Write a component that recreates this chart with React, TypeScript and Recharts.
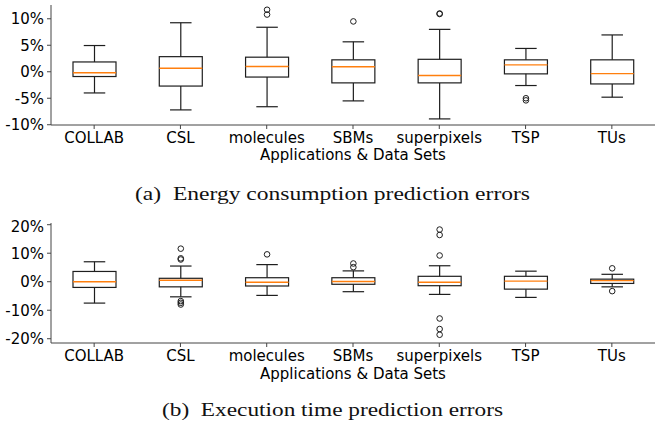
import React from 'react';
import { ComposedChart, Bar, XAxis, YAxis, Label } from 'recharts';

const categories = ['COLLAB', 'CSL', 'molecules', 'SBMs', 'superpixels', 'TSP', 'TUs'];

// (a) Energy consumption prediction errors (%)
const energyWhiskerLow = [-4.0, -7.2, -6.6, -5.5, -8.9, -2.6, -4.8];
const energyQ1 = [-0.9, -2.7, -1.0, -2.1, -2.1, -0.4, -2.3];
const energyMedian = [-0.2, 0.65, 1.0, 0.95, -0.7, 1.3, -0.35];
const energyQ3 = [1.85, 2.85, 2.75, 2.25, 2.35, 2.25, 2.25];
const energyWhiskerHigh = [4.95, 9.25, 8.4, 5.65, 8.0, 4.4, 6.95];
const energyOutliers: number[][] = [[], [], [10.8, 11.7], [9.5], [10.9, 11.0], [-5.0, -5.4], []];
const energyTicks = [-10, -5, 0, 5, 10];
const energyDomain: [number, number] = [-10.05, 12.6];

// (b) Execution time prediction errors (%)
const timeWhiskerLow = [-7.5, -5.3, -4.8, -3.5, -4.45, -5.5, -1.8];
const timeQ1 = [-2.0, -1.8, -1.5, -0.9, -1.4, -2.6, -0.6];
const timeMedian = [0.0, 0.5, -0.2, 0.1, -0.2, 0.2, 0.4];
const timeQ3 = [3.6, 1.2, 1.4, 1.4, 1.9, 1.9, 0.9];
const timeWhiskerHigh = [7.0, 5.5, 6.0, 3.8, 5.6, 3.7, 2.6];
const timeOutliers: number[][] = [
  [],
  [11.6, 8.2, 7.8, -6.8, -7.4, -8.0],
  [9.6],
  [6.4, 5.1],
  [18.3, 16.4, 9.2, -12.9, -16.6, -18.6],
  [],
  [4.7, -3.3],
];
const timeTicks = [-20, -10, 0, 10, 20];
const timeDomain: [number, number] = [-21.5, 20.6];

const xTitle = 'Applications & Data Sets';
const captionA = '(a)  Energy consumption prediction errors';
const captionB = '(b)  Execution time prediction errors';

function buildRows(
  low: number[], q1: number[], med: number[], q3: number[], high: number[], outliers: number[][]
) {
  return categories.map((name, i) => {
    const all = [low[i], high[i], ...outliers[i]];
    return {
      name,
      wl: low[i],
      q1: q1[i],
      med: med[i],
      q3: q3[i],
      wh: high[i],
      out: outliers[i],
      lo: Math.min(...all),
      hi: Math.max(...all),
    };
  });
}

const energyRows = buildRows(energyWhiskerLow, energyQ1, energyMedian, energyQ3, energyWhiskerHigh, energyOutliers);
const timeRows = buildRows(timeWhiskerLow, timeQ1, timeMedian, timeQ3, timeWhiskerHigh, timeOutliers);

const LINE = '#1e1e1e';
const FRAME = '#444';
const MEDIAN = '#ff7f0e';

const BoxShape = (props: any) => {
  const { x, y, width, height } = props;
  const p = props.payload ?? props;
  const span = p.hi - p.lo;
  const py = (v: number) => y + ((p.hi - v) / span) * height;
  const cx = x + width / 2;
  const cap = width / 4;
  const yq1 = py(p.q1);
  const yq3 = py(p.q3);
  return (
    <g>
      <line x1={cx} x2={cx} y1={py(p.wh)} y2={yq3} stroke={LINE} strokeWidth={1.2} />
      <line x1={cx} x2={cx} y1={yq1} y2={py(p.wl)} stroke={LINE} strokeWidth={1.2} />
      <line x1={cx - cap} x2={cx + cap} y1={py(p.wh)} y2={py(p.wh)} stroke={LINE} strokeWidth={1.2} />
      <line x1={cx - cap} x2={cx + cap} y1={py(p.wl)} y2={py(p.wl)} stroke={LINE} strokeWidth={1.2} />
      <rect x={x} y={yq3} width={width} height={yq1 - yq3} fill="none" stroke={LINE} strokeWidth={1.2} />
      <line x1={x} x2={x + width} y1={py(p.med)} y2={py(p.med)} stroke={MEDIAN} strokeWidth={1.4} />
      {p.out.map((v: number, k: number) => (
        <circle key={k} cx={cx} cy={py(v)} r={2.8} fill="none" stroke={LINE} strokeWidth={1} />
      ))}
    </g>
  );
};

const tickStyle = { fill: '#000', fontSize: 15, fontFamily: 'DejaVu Sans' };

function BoxChart({ rows, domain, ticks, top, titleOffset }: any) {
  return (
    <div style={{ position: 'absolute', left: 0, top }}>
      <ComposedChart
        width={656}
        height={165}
        data={rows}
        margin={{ top: 5, right: 1, bottom: 0, left: 0 }}
        barSize={43}
      >
        <XAxis
          dataKey="name"
          interval={0}
          tickSize={4}
          tickMargin={3}
          height={40}
          stroke={FRAME}
          tick={tickStyle}
          tickLine={{ stroke: FRAME }}
        >
          <Label
            value={xTitle}
            position="insideBottom"
            offset={titleOffset}
            fill="#000"
            style={{ fontSize: 15, fontFamily: 'DejaVu Sans', fill: '#000' }}
          />
        </XAxis>
        <XAxis xAxisId="top" dataKey="name" orientation="top" height={0} tick={false} tickLine={false} stroke={FRAME} />
        <YAxis
          type="number"
          domain={domain}
          ticks={ticks}
          allowDataOverflow
          width={51}
          tickSize={4}
          tickMargin={3}
          stroke={FRAME}
          tick={tickStyle}
          tickLine={{ stroke: FRAME }}
          tickFormatter={(v: number) => `${v}%`}
        />
        <YAxis yAxisId="right" orientation="right" width={0} tick={false} tickLine={false} stroke={FRAME} />
        <Bar dataKey={(d: any) => [d.lo, d.hi]} shape={BoxShape} isAnimationActive={false} />
      </ComposedChart>
    </div>
  );
}

export default function App() {
  return (
    <div style={{ position: 'absolute', left: 0, top: 0, width: 656, height: 426, background: '#fff' }}>
      <BoxChart rows={energyRows} domain={energyDomain} ticks={energyTicks} top={0} titleOffset={5} />
      <BoxChart rows={timeRows} domain={timeDomain} ticks={timeTicks} top={218} titleOffset={4} />
      <svg width={656} height={426} style={{ position: 'absolute', left: 0, top: 0, pointerEvents: 'none' }}>
        <text
          x={135}
          y={200}
          textLength={395}
          lengthAdjust="spacingAndGlyphs"
          style={{ whiteSpace: 'pre', fontFamily: 'Liberation Serif', fontSize: 19.5, fill: '#111' }}
        >
          {captionA}
        </text>
        <text
          x={162}
          y={416}
          textLength={341}
          lengthAdjust="spacingAndGlyphs"
          style={{ whiteSpace: 'pre', fontFamily: 'Liberation Serif', fontSize: 19.5, fill: '#111' }}
        >
          {captionB}
        </text>
      </svg>
    </div>
  );
}
